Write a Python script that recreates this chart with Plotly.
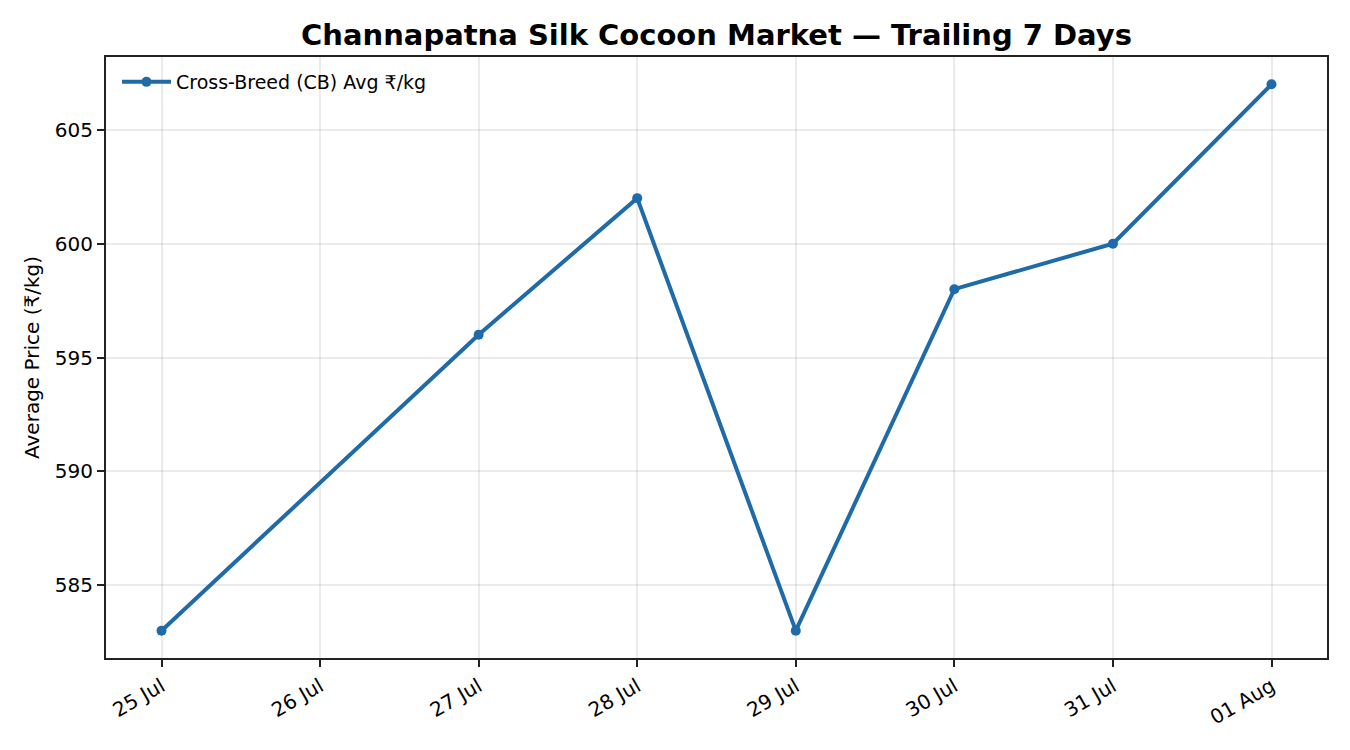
import plotly.graph_objects as go

dates = ["2024-07-25", "2024-07-27", "2024-07-28", "2024-07-29", "2024-07-30", "2024-07-31", "2024-08-01"]
prices = [583, 596, 602, 583, 598, 600, 607]
tick_dates = ["2024-07-25", "2024-07-26", "2024-07-27", "2024-07-28", "2024-07-29", "2024-07-30", "2024-07-31", "2024-08-01"]
tick_labels = ["25 Jul", "26 Jul", "27 Jul", "28 Jul", "29 Jul", "30 Jul", "31 Jul", "01 Aug"]
y_ticks = [585, 590, 595, 600, 605]

FONT = "DejaVu Sans"
BLUE = "#1f6aa8"

fig = go.Figure()
fig.add_trace(go.Scatter(
    x=dates, y=prices, mode="lines+markers",
    name="Cross-Breed (CB) Avg ₹/kg",
    line=dict(color=BLUE, width=4),
    marker=dict(color=BLUE, size=10),
))

fig.update_layout(
    width=1350, height=750,
    paper_bgcolor="white", plot_bgcolor="white",
    margin=dict(l=98, r=31, t=49, b=100),
    font=dict(family=FONT, size=19, color="black"),
    title=dict(text="<b>Channapatna Silk Cocoon Market — Trailing 7 Days</b>",
               x=0.5, xref="paper", xanchor="center", y=0.964, yanchor="middle",
               font=dict(family=FONT, size=29, color="black")),
    showlegend=True,
    legend=dict(x=0.009, y=0.99, xanchor="left", yanchor="top",
                bgcolor="rgba(255,255,255,0)", borderwidth=0,
                itemwidth=49,
                font=dict(family=FONT, size=19)),
    xaxis=dict(
        type="date",
        range=["2024-07-24 15:36", "2024-08-01 08:24"],
        tickvals=tick_dates, ticktext=tick_labels, tickangle=-30,
        showgrid=True, gridcolor="rgba(0,0,0,0.08)", gridwidth=1.5,
        showline=True, linecolor="#222", linewidth=2, mirror=True,
        ticks="outside", ticklen=7, tickwidth=2, tickcolor="#222",
        tickfont=dict(family=FONT, size=20),
        zeroline=False,
    ),
    yaxis=dict(
        range=[581.8, 608.2],
        tickvals=y_ticks,
        title=dict(text="Average Price (₹/kg)", font=dict(family=FONT, size=20), standoff=10),
        showgrid=True, gridcolor="rgba(0,0,0,0.08)", gridwidth=1.5,
        showline=True, linecolor="#222", linewidth=2, mirror=True,
        ticks="outside", ticklen=7, tickwidth=2, tickcolor="#222",
        tickfont=dict(family=FONT, size=20),
        zeroline=False,
    ),
)

fig.write_html("out.html")
